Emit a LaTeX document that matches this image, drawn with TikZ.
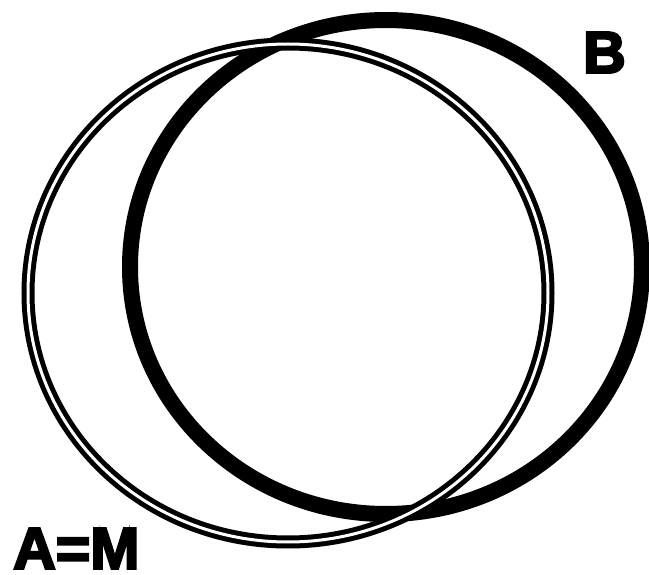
\documentclass[tikz,border=0pt]{standalone}
\usepackage{fontspec}
\usepackage{tikz}
\usetikzlibrary{positioning}
\newfontfamily\setfont[FakeBold=4]{Liberation Sans Bold}
\tikzset{
  setB/.style={line width=16pt},
  setA/.style={double,line width=5pt,double distance=3pt},
  setlabel/.style={inner sep=0pt,anchor=south west,font=\setfont\fontsize{59}{59}\selectfont}
}

\begin{document}
\begin{tikzpicture}[x=1pt,y=-1pt]
  \useasboundingbox (0,0) rectangle (649,575);
  % set B (thick line), drawn first
  \draw[setB] (386,267) ellipse [x radius=256, y radius=247];
  % set A = M (double line) on top
  \draw[setA] (288,293) ellipse [x radius=260, y radius=249];
  % labels
  \node[setlabel] (labB) at (583,73) {B};
  \node[setlabel] (labA) at (13,569) {A=M};
\end{tikzpicture}
\end{document}
